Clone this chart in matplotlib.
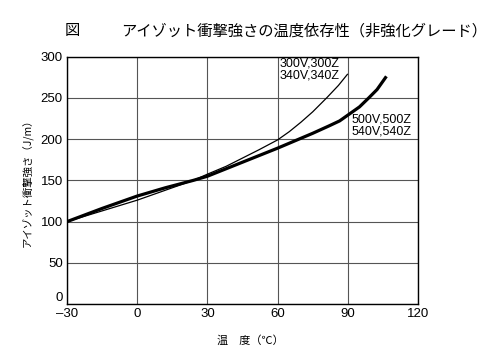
import matplotlib
matplotlib.use('Agg')
import matplotlib.pyplot as plt

plt.rcParams['font.family'] = ['Liberation Sans', 'Noto Sans CJK JP', 'DejaVu Sans']

# readings (temperature degC, impact strength J/m)
temp_300 = [-30, -15, 0, 12, 24, 30, 38, 45, 52, 60, 65, 70, 75, 81, 86, 90]
imp_300 = [100, 113, 126, 138, 150, 157.5, 167, 177, 187, 199, 209, 220.5, 233, 250, 265, 279]

temp_500 = [-30, -15, 0, 12, 24, 30, 45, 60, 75, 82, 86.5, 90, 95, 99, 102.5, 106.5]
imp_500 = [100, 116, 131, 141, 150, 155, 172, 189, 207, 216, 222, 229, 239, 250, 260, 276]

label_300 = '300V,300Z\n340V,340Z'
label_500 = '500V,500Z\n540V,540Z'

xticks = [-30, 0, 30, 60, 90, 120]
yticks = [0, 50, 100, 150, 200, 250, 300]

fig = plt.figure(figsize=(5, 3.6), dpi=100)
ax = fig.add_axes([0.134, 0.155, 0.702, 0.688])

ax.plot(temp_300, imp_300, color='black', linewidth=0.9, solid_capstyle='butt')
ax.plot(temp_500, imp_500, color='black', linewidth=2.3, solid_capstyle='butt')

ax.set_xlim(-30, 120)
ax.set_ylim(0, 300)
ax.set_xticks(xticks)
ax.set_yticks(yticks)
ax.set_xticklabels(['\u201330' if t < 0 else str(t) for t in xticks])
ax.tick_params(length=0, labelsize=9.5, pad=3)
ax.get_yticklabels()[0].set_va('bottom')
ax.grid(True, color='#555555', linewidth=0.8)
ax.set_axisbelow(True)
for s in ax.spines.values():
    s.set_linewidth(1.0)

ax.text(61, 298.5, label_300, fontsize=9, va='top', ha='left', linespacing=0.95)
ax.text(91.5, 231, label_500, fontsize=9, va='top', ha='left', linespacing=0.95)

jp = ['Noto Sans CJK JP', 'DejaVu Sans']
fig.text(0.13, 0.915, '図', fontsize=11, family=jp, va='center', ha='left')
fig.text(0.243, 0.915, 'アイゾット衝撃強さの温度依存性（非強化グレード）', fontsize=11,
         family=jp, va='center', ha='left')
fig.text(0.054, 0.5, 'アイゾット衝撃強さ（J/m）', fontsize=7.5, family=jp,
         rotation=90, va='center', ha='center')
fig.text(0.5, 0.055, '温　度（℃）', fontsize=8, family=jp, va='center', ha='center')

fig.savefig('out.png', dpi=100)
